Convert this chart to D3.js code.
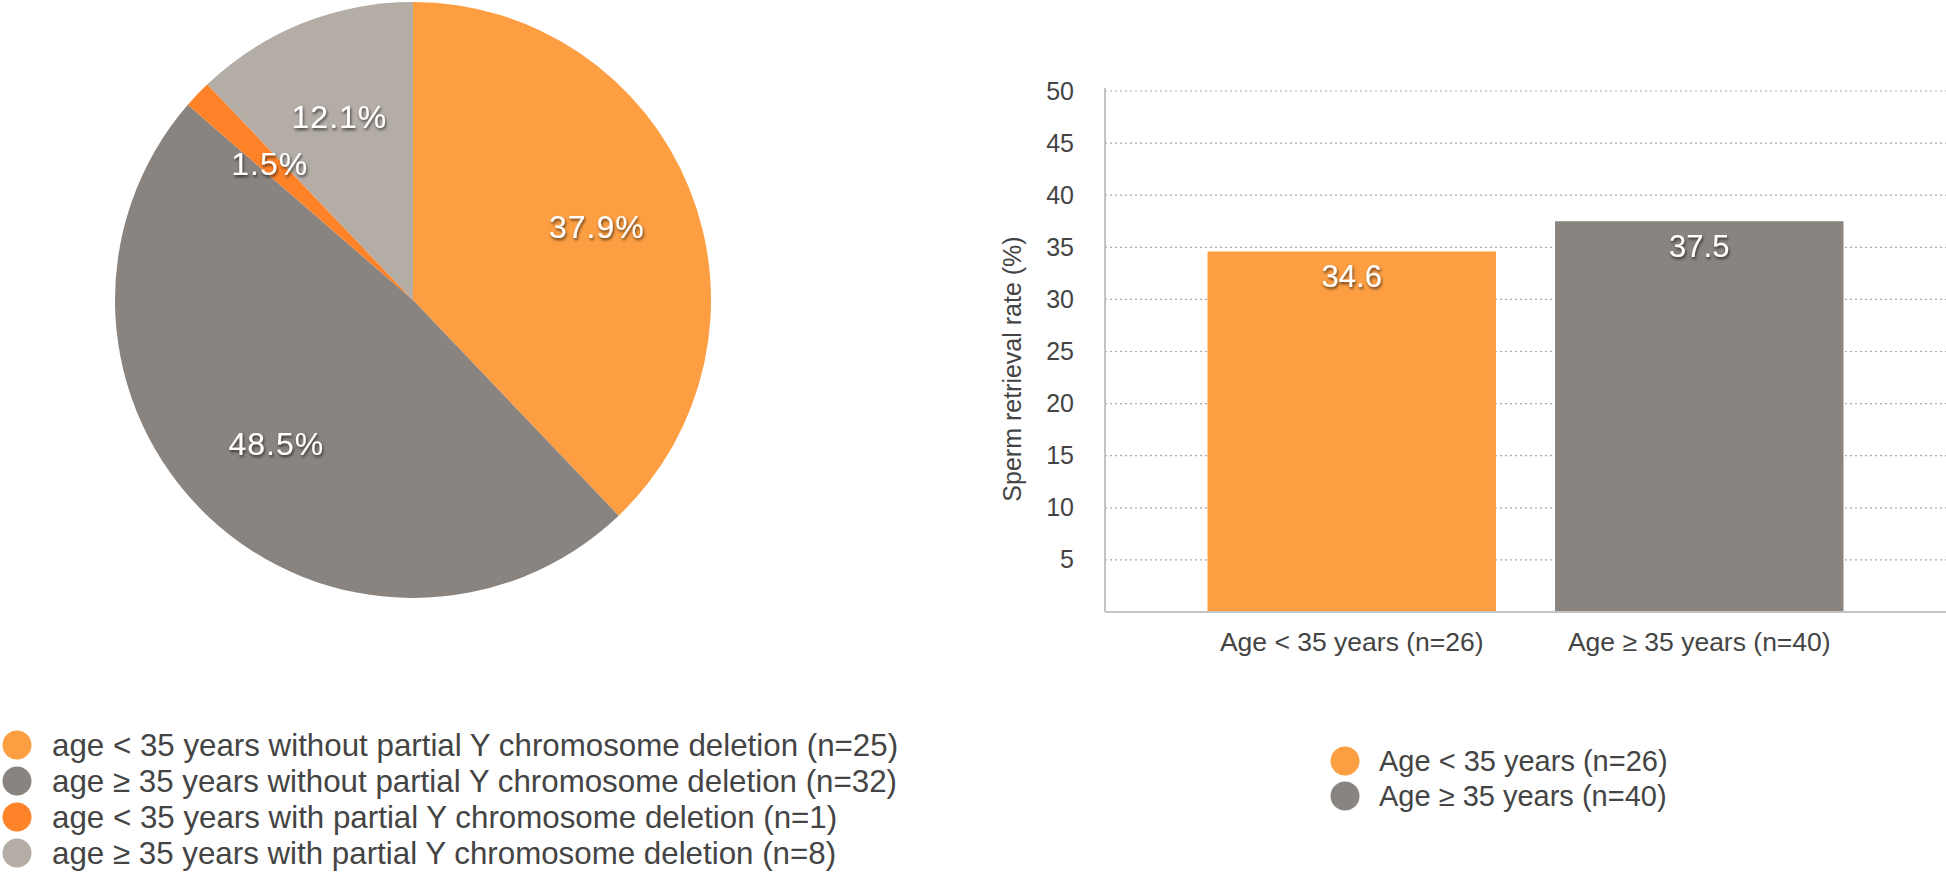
<!DOCTYPE html>
<html>
<head>
<meta charset="utf-8">
<script src="https://cdn.jsdelivr.net/npm/d3@7"></script>
<style>
  html, body { margin: 0; padding: 0; background: #fff; }
  svg { display: block; font-family: "Liberation Sans", Arial, Helvetica, sans-serif; }
</style>
</head>
<body>
<svg id="chart" width="1946" height="875"></svg>
<script>
// ---------- data ----------
const pieCategories = [
  "age < 35 years without partial Y chromosome deletion (n=25)",
  "age \u2265 35 years without partial Y chromosome deletion (n=32)",
  "age < 35 years with partial Y chromosome deletion (n=1)",
  "age \u2265 35 years with partial Y chromosome deletion (n=8)"
];
const pieCounts = [25, 32, 1, 8];
const pieColors = ["#FD9E42", "#89847F", "#FE8228", "#B3ADA6"];

const barCategories = ["Age < 35 years (n=26)", "Age \u2265 35 years (n=40)"];
const barValues = [34.6, 37.5];
const barColors = ["#FD9E42", "#89847F"];
const yTickValues = [5, 10, 15, 20, 25, 30, 35, 40, 45, 50];
const yTitle = "Sperm retrieval rate (%)";

// ---------- setup ----------
const svg = d3.select("#chart");
const defs = svg.append("defs");
const f = defs.append("filter").attr("id", "shadow")
  .attr("x", "-20%").attr("y", "-30%").attr("width", "140%").attr("height", "170%");
f.append("feDropShadow").attr("dx", 1).attr("dy", 2).attr("stdDeviation", 1.4)
  .attr("flood-color", "#000").attr("flood-opacity", 0.65);

const textColor = "#444";

// ---------- pie ----------
const cx = 413, cy = 300, R = 298;
const pie = d3.pie().sort(null).value(d => d);
const arcs = pie(pieCounts);
const arc = d3.arc().innerRadius(0).outerRadius(R);
const labelArc = d3.arc().innerRadius(198).outerRadius(198);
const total = d3.sum(pieCounts);
const pct = d3.format(".1%");

const pg = svg.append("g").attr("transform", `translate(${cx},${cy})`);
pg.selectAll("path.slice").data(arcs).enter().append("path")
  .attr("class", "slice")
  .attr("d", arc)
  .attr("fill", (d, i) => pieColors[i]);

pg.selectAll("text.plabel").data(arcs).enter().append("text")
  .attr("class", "plabel")
  .attr("transform", d => `translate(${labelArc.centroid(d)})`)
  .attr("text-anchor", "middle")
  .attr("dy", "0.36em")
  .attr("fill", "#fff")
  .attr("font-size", 32)
  .attr("letter-spacing", 1)
  .attr("filter", "url(#shadow)")
  .text(d => pct(d.value / total));

// pie legend
const pl = svg.append("g").attr("transform", "translate(0,745)");
const plRow = pl.selectAll("g").data(pieCategories).enter().append("g")
  .attr("transform", (d, i) => `translate(0,${i * 36})`);
plRow.append("circle").attr("cx", 17).attr("cy", 0).attr("r", 14.5)
  .attr("fill", (d, i) => pieColors[i]);
plRow.append("text").attr("x", 52).attr("y", 0).attr("dy", "0.35em")
  .attr("font-size", 31.3).attr("fill", textColor)
  .text(d => d);

// ---------- bar chart ----------
const x0 = 1105, x1 = 1946, yTop = 91, yBot = 612;
const x = d3.scaleBand().domain(barCategories).range([x0, x1])
  .paddingInner(0.17).paddingOuter(0.295);
const y = d3.scaleLinear().domain([0, 50]).range([yBot, yTop]);

const bg = svg.append("g");
// gridlines
bg.selectAll("line.grid").data(yTickValues).enter().append("line")
  .attr("class", "grid")
  .attr("x1", x0).attr("x2", x1)
  .attr("y1", d => y(d)).attr("y2", d => y(d))
  .attr("stroke", "#aaa").attr("stroke-width", 1.2)
  .attr("stroke-dasharray", "2,3");

// y axis tick labels
const yAxis = d3.axisLeft(y).tickValues(yTickValues).tickSize(0).tickPadding(31);
const ya = bg.append("g").attr("transform", `translate(${x0},0)`).call(yAxis);
ya.select(".domain").remove();
ya.selectAll("text").attr("font-size", 25).attr("fill", textColor)
  .attr("font-family", "Liberation Sans, Arial, sans-serif");

// bars
bg.selectAll("rect.bar").data(barValues).enter().append("rect")
  .attr("class", "bar")
  .attr("x", (d, i) => x(barCategories[i]))
  .attr("width", x.bandwidth())
  .attr("y", d => y(d))
  .attr("height", d => y(0) - y(d))
  .attr("fill", (d, i) => barColors[i]);

// bar value labels
bg.selectAll("text.bval").data(barValues).enter().append("text")
  .attr("class", "bval")
  .attr("x", (d, i) => x(barCategories[i]) + x.bandwidth() / 2)
  .attr("y", d => y(d) + 36)
  .attr("text-anchor", "middle")
  .attr("font-size", 31)
  .attr("fill", "#fff")
  .attr("filter", "url(#shadow)")
  .text(d => d.toFixed(1));

// axis lines
bg.append("line").attr("x1", x0).attr("x2", x0).attr("y1", yTop - 3).attr("y2", yBot)
  .attr("stroke", "#c4c4c4").attr("stroke-width", 2);
bg.append("line").attr("x1", x0).attr("x2", x1).attr("y1", yBot).attr("y2", yBot)
  .attr("stroke", "#c4c4c4").attr("stroke-width", 2);

// x axis labels
const xAxis = d3.axisBottom(x).tickSize(0).tickPadding(20);
const xa = bg.append("g").attr("transform", `translate(0,${yBot})`).call(xAxis);
xa.select(".domain").remove();
xa.selectAll("text").attr("font-size", 26.5).attr("fill", textColor)
  .attr("font-family", "Liberation Sans, Arial, sans-serif");

// y title
bg.append("text")
  .attr("transform", `translate(1021,369) rotate(-90)`)
  .attr("text-anchor", "middle")
  .attr("font-size", 25)
  .attr("fill", textColor)
  .text(yTitle);

// bar legend
const bl = svg.append("g").attr("transform", "translate(0,761)");
const blRow = bl.selectAll("g").data(barCategories).enter().append("g")
  .attr("transform", (d, i) => `translate(0,${i * 35})`);
blRow.append("circle").attr("cx", 1345).attr("cy", 0).attr("r", 14.5)
  .attr("fill", (d, i) => barColors[i]);
blRow.append("text").attr("x", 1379).attr("y", 0).attr("dy", "0.35em")
  .attr("font-size", 29).attr("fill", textColor)
  .text(d => d);
</script>
</body>
</html>
